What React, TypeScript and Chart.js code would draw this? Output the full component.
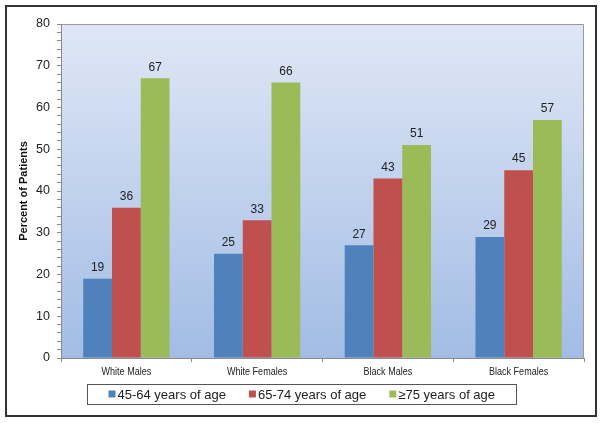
import { useEffect, useRef } from 'react';
import Chart from 'chart.js/auto';

const categories = ['White Males', 'White Females', 'Black Males', 'Black Females'];
const seriesLabels = ['45-64 years of age', '65-74 years of age', '\u226575 years of age'];
const age45to64 = [19, 25, 27, 29];
const age65to74 = [36, 33, 43, 45];
const age75plus = [67, 66, 51, 57];
const yTicks = [0, 10, 20, 30, 40, 50, 60, 70, 80];

const colors = ['#4f81bd', '#c0504d', '#9bbb59'];
const FONT = '"Liberation Sans", Arial, sans-serif';

// gradient plot background + top/right border
const plotBackground = {
  id: 'plotBackground',
  beforeDraw(chart: any) {
    const { ctx, chartArea: a } = chart;
    const g = ctx.createLinearGradient(0, a.top, 0, a.bottom);
    g.addColorStop(0, '#dfe7f6');
    g.addColorStop(1, '#a2bce4');
    ctx.save();
    ctx.fillStyle = g;
    ctx.fillRect(a.left, a.top, a.right - a.left, a.bottom - a.top);
    ctx.strokeStyle = '#9a9a9a';
    ctx.lineWidth = 1;
    ctx.beginPath();
    ctx.moveTo(a.left, a.top + 0.5);
    ctx.lineTo(a.right - 0.5, a.top + 0.5);
    ctx.lineTo(a.right - 0.5, a.bottom);
    ctx.stroke();
    ctx.restore();
  },
};

// category labels in a condensed face (the original uses a narrow font)
const narrowCategoryLabels = {
  id: 'narrowCategoryLabels',
  afterDraw(chart: any) {
    const { ctx } = chart;
    const xScale = chart.scales.x;
    const squeeze = 0.82;
    ctx.save();
    ctx.font = `11px ${FONT}`;
    ctx.fillStyle = '#222';
    ctx.textAlign = 'center';
    ctx.textBaseline = 'middle';
    chart.data.labels.forEach((label: string, i: number) => {
      const x = xScale.getPixelForValue(i);
      ctx.save();
      ctx.translate(x, xScale.top + 14);
      ctx.scale(squeeze, 1);
      ctx.fillText(label, 0, 0);
      ctx.restore();
    });
    ctx.restore();
  },
};

// value labels above each bar
const valueLabels = {
  id: 'valueLabels',
  afterDatasetsDraw(chart: any) {
    const { ctx } = chart;
    ctx.save();
    ctx.font = `12px ${FONT}`;
    ctx.fillStyle = '#222';
    ctx.textAlign = 'center';
    ctx.textBaseline = 'bottom';
    chart.data.datasets.forEach((ds: any, i: number) => {
      chart.getDatasetMeta(i).data.forEach((bar: any, j: number) => {
        ctx.fillText(String(ds.data[j]), bar.x, bar.y - 5);
      });
    });
    ctx.restore();
  },
};

// boxed legend at the bottom
const boxedLegend = {
  id: 'boxedLegend',
  afterDraw(chart: any) {
    const { ctx } = chart;
    const marker = 7;
    const gapText = 2;
    const gapItem = 23;
    const pad = 21;
    const cy = 394;
    ctx.save();
    ctx.font = `13px ${FONT}`;
    const items = chart.data.datasets.map((ds: any) => ({
      label: ds.label,
      color: ds.backgroundColor,
      w: marker + gapText + ctx.measureText(ds.label).width,
    }));
    const content = items.reduce((s: number, it: any) => s + it.w, 0) + gapItem * (items.length - 1);
    const boxW = Math.round(content + pad * 2);
    const boxLeft = Math.round(chart.width / 2 - boxW / 2) + 0.5;
    ctx.strokeStyle = '#555';
    ctx.lineWidth = 1;
    ctx.strokeRect(boxLeft, 384.5, boxW, 20);
    let x = boxLeft + pad;
    ctx.textBaseline = 'middle';
    ctx.textAlign = 'left';
    items.forEach((it: any) => {
      ctx.fillStyle = it.color;
      ctx.fillRect(x, cy - marker / 2, marker, marker);
      ctx.fillStyle = '#222';
      ctx.fillText(it.label, x + marker + gapText, cy + 1);
      x += it.w + gapItem;
    });
    ctx.restore();
  },
};

const App = () => {
  const chartRef = useRef<HTMLCanvasElement>(null);

  useEffect(() => {
    const ctx = chartRef.current?.getContext('2d');
    if (!ctx) return;

    const series = [age45to64, age65to74, age75plus];

    const chartInstance = new Chart(ctx, {
      type: 'bar',
      data: {
        labels: categories,
        datasets: series.map((data, i) => ({
          label: seriesLabels[i],
          data,
          backgroundColor: colors[i],
          borderWidth: 0,
          categoryPercentage: 0.66,
          barPercentage: 1,
        })),
      },
      options: {
        animation: false,
        responsive: false,
        maintainAspectRatio: false,
        devicePixelRatio: 1,
        layout: { padding: { left: 10, top: 24, right: 19, bottom: 35 } },
        plugins: { legend: { display: false }, tooltip: { enabled: false } },
        scales: {
          x: {
            offset: true,
            grid: { display: true, drawOnChartArea: false, offset: true, tickLength: 4, color: '#8a8a8a' },
            border: { color: '#8a8a8a' },
            ticks: { display: false },
            afterFit: (scale: any) => {
              scale.height = 30;
            },
          },
          y: {
            min: 0,
            max: 80,
            grid: { display: true, drawOnChartArea: false, tickLength: 4, color: '#8a8a8a' },
            border: { color: '#8a8a8a' },
            ticks: {
              stepSize: 2,
              autoSkip: false,
              color: '#222',
              font: { family: FONT, size: 12.5 },
              padding: 7,
              callback: (v: any) => (yTicks.includes(Number(v)) ? String(v) : ''),
            },
            title: {
              display: true,
              text: 'Percent of Patients',
              color: '#111',
              font: { family: FONT, size: 11, weight: 'bold' },
              padding: { top: 7, bottom: 0 },
            },
            afterFit: (scale: any) => {
              scale.width = 51;
            },
          },
        },
      },
      plugins: [plotBackground, valueLabels, narrowCategoryLabels, boxedLegend],
    });

    return () => chartInstance.destroy();
  }, []);

  return (
    <div style={{ position: 'fixed', left: 0, top: 0, width: 603, height: 423, background: '#fff' }}>
      <canvas ref={chartRef} width={603} height={423} style={{ position: 'absolute', left: 0, top: 0, width: 603, height: 423 }} />
      {/* outer frame */}
      <div
        style={{
          position: 'absolute',
          left: 5,
          top: 5,
          width: 592,
          height: 412,
          boxSizing: 'border-box',
          border: '2px solid #333',
          pointerEvents: 'none',
        }}
      />
    </div>
  );
};

export default App;
